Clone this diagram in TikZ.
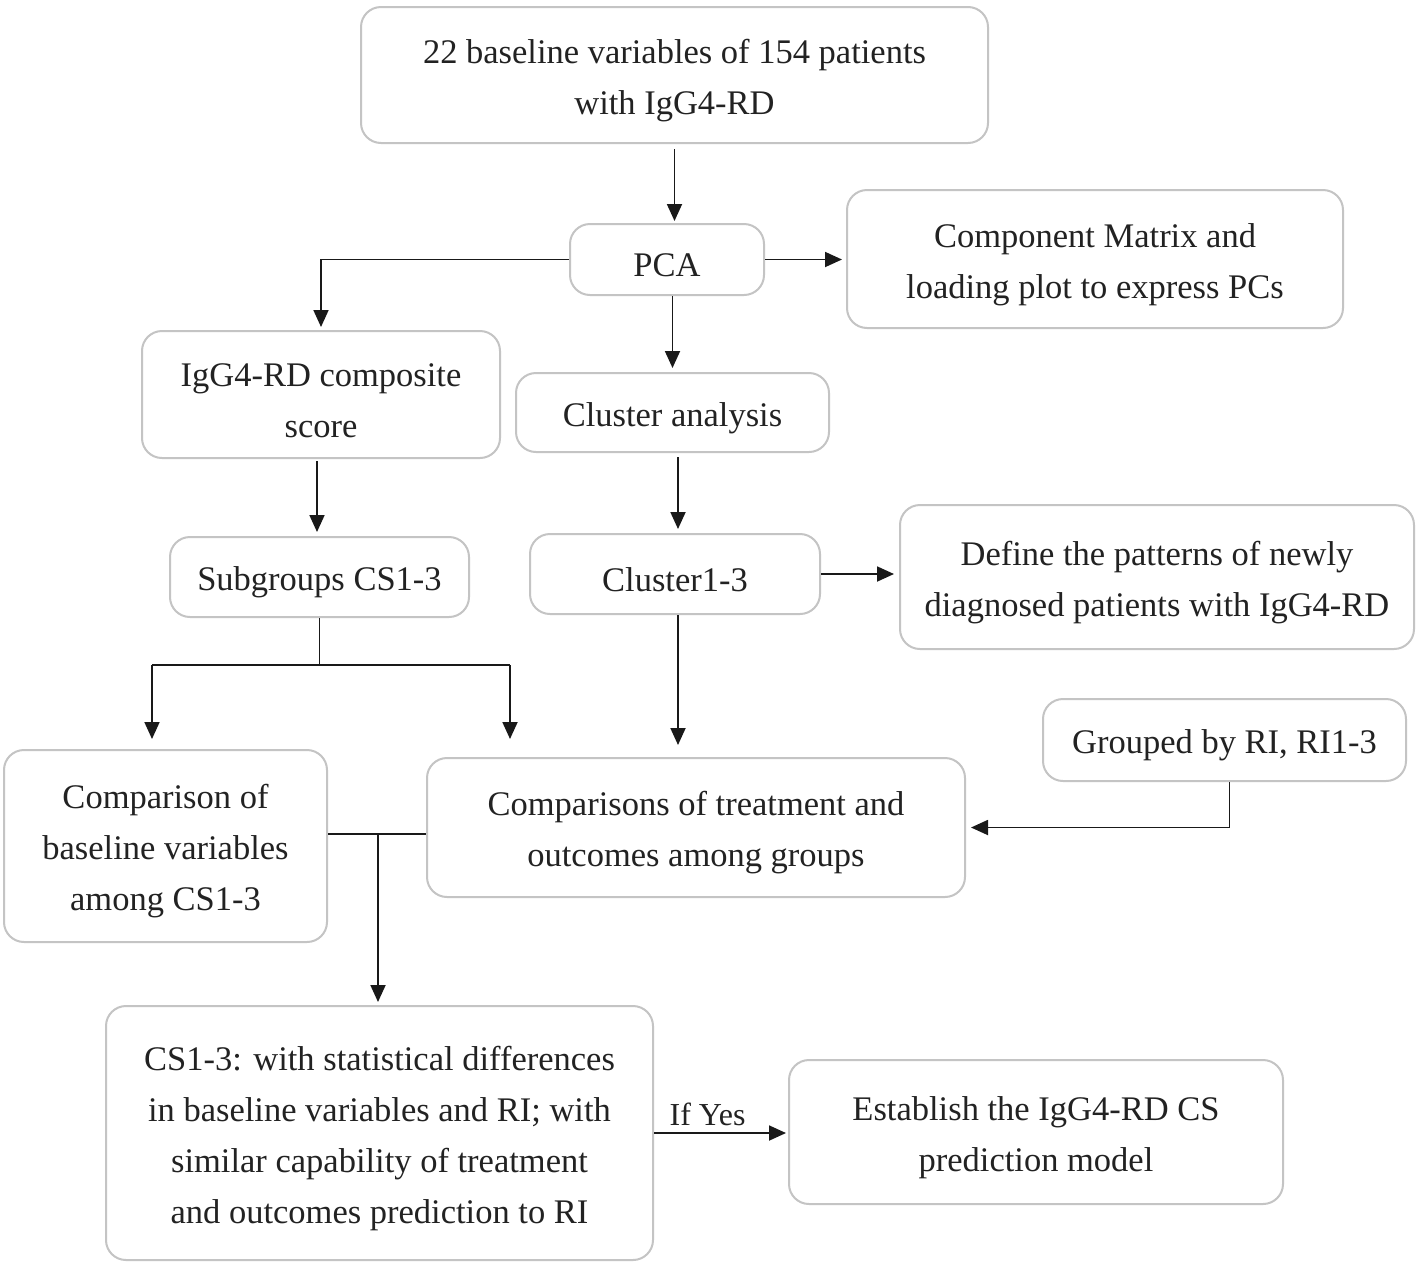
\documentclass[tikz,border=0pt]{standalone}
\usepackage{fontspec}
\setmainfont{Liberation Serif}
\usetikzlibrary{arrows.meta}
\definecolor{boxgray}{HTML}{C4C4C4}
\definecolor{txt}{HTML}{222222}
\begin{document}
\begin{tikzpicture}[x=1pt,y=-1pt,
  box/.style={draw=boxgray, line width=2pt, rounded corners=20pt, align=center,
    inner sep=0pt, text=txt, text height=35pt, font=\fontsize{34.5}{51}\selectfont},
  two/.style={text height=86pt},
  three/.style={text height=137pt},
  four/.style={text height=188pt},
  arr/.style={draw=black!90, line width=1.8pt, -{Triangle[length=17pt,width=15pt]}},
  ln/.style={draw=black!90, line width=1.8pt}]
\useasboundingbox[fill=white] (0,0) rectangle (1418,1267);

\node[box, two, minimum width=627pt, minimum height=136pt] (top) at (674.5,75) {22 baseline variables of 154 patients\\with IgG4-RD};
\node[box, minimum width=194pt, minimum height=71pt] (pca) at (667,259.5) {PCA};
\node[box, two, minimum width=496pt, minimum height=138pt] (cm) at (1095,259) {Component Matrix and\\loading plot to express PCs};
\node[box, two, minimum width=358pt, minimum height=127pt] (comp) at (321,394.5) {IgG4-RD composite\\score};
\node[box, minimum width=313pt, minimum height=79pt] (ca) at (672.5,412.5) {Cluster analysis};
\node[box, minimum width=299pt, minimum height=80pt] (sub) at (319.5,577) {Subgroups CS1-3};
\node[box, minimum width=290pt, minimum height=80pt] (cl) at (675,574) {Cluster1-3};
\node[box, two, minimum width=514pt, minimum height=144pt] (def) at (1157,577) {Define the patterns of newly\\diagnosed patients with IgG4-RD};
\node[box, minimum width=363pt, minimum height=82pt] (grp) at (1224.5,740) {Grouped by RI, RI1-3};
\node[box, three, minimum width=323pt, minimum height=192pt] (cmpb) at (165.5,846) {Comparison of\\baseline variables\\among CS1-3};
\node[box, two, minimum width=538pt, minimum height=139pt] (cmpt) at (696,827.5) {Comparisons of treatment and\\outcomes among groups};
\node[box, four, minimum width=547pt, minimum height=254pt] (cs) at (379.5,1133) {CS1-3: with statistical differences\\in baseline variables and RI; with\\similar capability of treatment\\and outcomes prediction to RI};
\node[box, two, minimum width=494pt, minimum height=144pt] (est) at (1036,1132) {Establish the IgG4-RD CS\\prediction model};

\coordinate (sl) at (152,665);
\coordinate (sr) at (510,665);
\coordinate (jn) at (378,834);

\draw[arr, shorten <=5pt, shorten >=2pt] (top.south) -- (top.south |- pca.north);
\draw[arr, shorten >=4pt] (pca.east) -- (pca.east -| cm.west);
\draw[arr, shorten >=3pt] (pca.west) -| (comp.north);
\draw[arr, shorten >=4pt] (ca.north |- pca.south) -- (ca.north);
\draw[arr, shorten <=2pt, shorten >=4pt] ([xshift=-4pt]comp.south) -- ([xshift=-4pt]comp.south |- sub.north);
\draw[arr, shorten <=4pt, shorten >=4pt] ([xshift=3pt]cl.north |- ca.south) -- ([xshift=3pt]cl.north);
\draw[ln] (sub.south) -- (sub.south |- sl);
\draw[ln] (sl) -- (sr);
\draw[arr, shorten >=10pt] (sl) -- (sl |- cmpb.north);
\draw[arr, shorten >=18pt] (sr) -- (sr |- cmpt.north);
\draw[arr, shorten >=12pt] ([xshift=3pt]cl.south) -- ([xshift=3pt]cl.south |- cmpt.north);
\draw[arr, shorten >=5pt] (cl.east) -- (cl.east -| def.west);
\draw[arr, shorten >=5pt] ([xshift=5pt]grp.south) |- (cmpt.east);
\draw[ln] (cmpb.east |- jn) -- (cmpt.west |- jn);
\draw[arr, shorten >=3pt] (jn) -- (jn |- cs.north);
\draw[arr, shorten >=2pt] (cs.east) -- node[pos=0.4, above, inner sep=6pt, text=txt, font=\fontsize{32}{36}\selectfont] (ify) {If Yes} (cs.east -| est.west);
\end{tikzpicture}
\end{document}
